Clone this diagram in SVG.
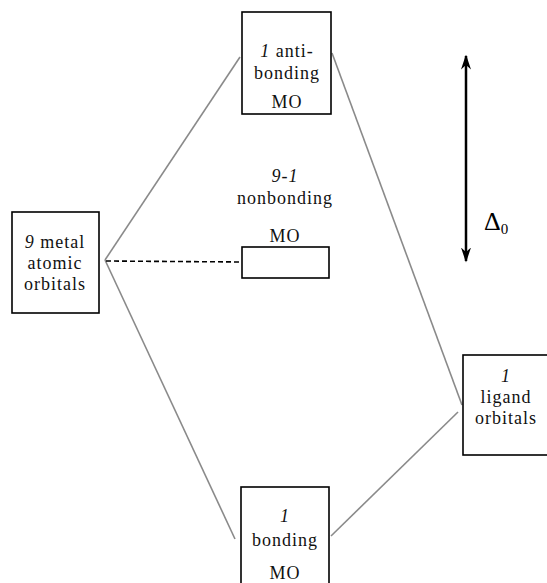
<svg xmlns="http://www.w3.org/2000/svg" width="547" height="583" viewBox="0 0 547 583">
<style>
.box{fill:#fff;stroke:#000;stroke-width:1.6}
.t{font-family:"Liberation Serif","Times New Roman",serif;font-size:18px;letter-spacing:1px;fill:#111;text-anchor:middle}
.i{font-style:italic}
.ln{stroke:#8a8a8a;stroke-width:1.6;fill:none}
</style>
<defs>
<marker id="ah" viewBox="0 0 10 10" refX="9" refY="5" markerWidth="6" markerHeight="4" orient="auto-start-reverse" markerUnits="strokeWidth" preserveAspectRatio="none">
<path d="M0,0 L10,5 L0,10 L3,5 Z" fill="#000"/>
</marker>
</defs>
<g id="connectors">
<line class="ln" x1="105" y1="260" x2="240" y2="57"/>
<line class="ln" x1="105" y1="260" x2="235" y2="539"/>
<line class="ln" x1="332" y1="53" x2="462" y2="405"/>
<line class="ln" x1="331" y1="536" x2="458" y2="412"/>
<line x1="106" y1="261" x2="242" y2="262" stroke="#000" stroke-width="1.6" stroke-dasharray="5,3"/>
<line x1="466" y1="56" x2="466" y2="261" stroke="#000" stroke-width="2.5" marker-start="url(#ah)" marker-end="url(#ah)"/>
</g>
<g id="antibonding">
<rect class="box" x="242" y="12" width="89" height="102"/>
<text class="t" x="287" y="57"><tspan class="i">1</tspan> anti-</text>
<text class="t" x="287" y="79">bonding</text>
<text class="t" x="287" y="108">MO</text>
</g>
<g id="metal">
<rect class="box" x="12" y="212" width="87" height="101"/>
<text class="t" x="55" y="248"><tspan class="i">9</tspan> metal</text>
<text class="t" x="55" y="269">atomic</text>
<text class="t" x="55" y="290">orbitals</text>
</g>
<g id="nonbonding">
<text class="t i" x="285" y="182">9-1</text>
<text class="t" x="285" y="204">nonbonding</text>
<text class="t" x="285" y="242">MO</text>
<rect class="box" x="242" y="247" width="87" height="31"/>
</g>
<g id="ligand">
<rect class="box" x="463" y="355" width="90" height="100"/>
<text class="t i" x="506" y="382">1</text>
<text class="t" x="506" y="403">ligand</text>
<text class="t" x="506" y="424">orbitals</text>
</g>
<g id="bonding">
<rect class="box" x="241" y="487" width="88" height="110"/>
<text class="t i" x="285" y="522">1</text>
<text class="t" x="285" y="546">bonding</text>
<text class="t" x="285" y="579">MO</text>
</g>
<g id="delta">
<text x="484" y="230" font-family="Liberation Serif, serif" font-size="26" fill="#000">Δ<tspan font-size="15" dy="4">0</tspan></text>
</g>
</svg>
